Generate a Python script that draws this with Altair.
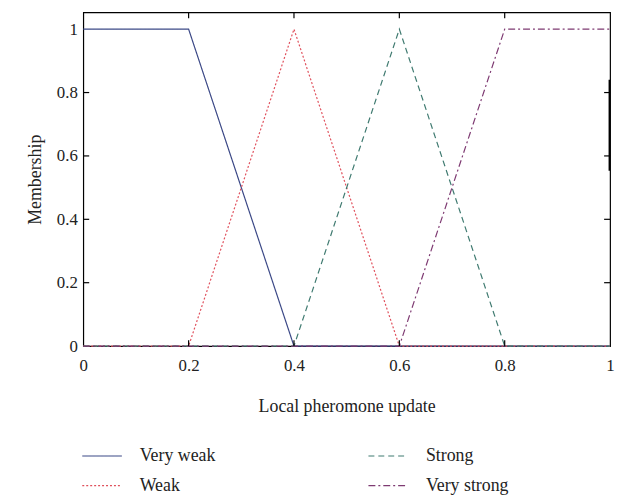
import altair as alt
import pandas as pd

# Membership functions (x breakpoints and membership values)
series_names = ["Very weak", "Weak", "Strong", "Very strong"]
very_weak_x = [0.0, 0.2, 0.4, 1.0]
very_weak_y = [1.0, 1.0, 0.0, 0.0]
weak_x = [0.0, 0.2, 0.4, 0.6, 1.0]
weak_y = [0.0, 0.0, 1.0, 0.0, 0.0]
strong_x = [0.0, 0.4, 0.6, 0.8, 1.0]
strong_y = [0.0, 0.0, 1.0, 0.0, 0.0]
very_strong_x = [0.0, 0.6, 0.8, 1.0]
very_strong_y = [0.0, 0.0, 1.0, 1.0]

x_ticks = [0, 0.2, 0.4, 0.6, 0.8, 1]
y_ticks = [0, 0.2, 0.4, 0.6, 0.8, 1]
inner_x_ticks = [0.2, 0.4, 0.6, 0.8]
inner_y_ticks = [0.2, 0.4, 0.6, 0.8]

# scan artifact on right border
artifact_y = [0.553]
artifact_y2 = [0.84]
artifact_x = [1.0]

colors = ["#3b4886", "#e0505c", "#3f7a70", "#7e3a72"]
dashes = [[1, 0], [2, 2], [6, 4], [7, 3, 2, 3]]
legend_order = ["Very weak", "Strong", "Weak", "Very strong"]

rows = []
for name, xs, ys in [
    ("Very weak", very_weak_x, very_weak_y),
    ("Weak", weak_x, weak_y),
    ("Strong", strong_x, strong_y),
    ("Very strong", very_strong_x, very_strong_y),
]:
    for i, (a, b) in enumerate(zip(xs, ys)):
        rows.append({"series": name, "x": a, "y": b, "i": i})
df = pd.DataFrame(rows)

W, H = 532, 337
FONT = "Liberation Serif"
TL = 6  # inward tick length

xscale = alt.Scale(domain=[0, 1], nice=False, zero=False)
yscale = alt.Scale(domain=[0, 1.053], nice=False, zero=False)

legend_kw = dict(title=None, orient="none", legendX=-2, legendY=427,
                 columns=2, columnPadding=151, rowPadding=-12,
                 symbolType="stroke", symbolSize=1600,
                 symbolStrokeWidth=1.2, labelOffset=17,
                 labelFontSize=18, labelFont=FONT,
                 labelColor="#222", padding=0)

lines = alt.Chart(df).mark_line(strokeWidth=1.2).encode(
    x=alt.X("x:Q", scale=xscale,
            axis=alt.Axis(values=x_ticks, title="Local pheromone update", format="~g",
                          grid=False, ticks=False, domain=False, labelPadding=12,
                          labelFlush=False, titlePadding=24)),
    y=alt.Y("y:Q", scale=yscale,
            axis=alt.Axis(values=y_ticks, title="Membership", format="~g",
                          grid=False, ticks=False, domain=False, labelPadding=6,
                          labelFlush=False, titlePadding=12)),
    order="i:Q",
    color=alt.Color("series:N",
                    scale=alt.Scale(domain=series_names, range=colors),
                    sort=legend_order, legend=alt.Legend(**legend_kw)),
    strokeDash=alt.StrokeDash("series:N",
                              scale=alt.Scale(domain=series_names, range=dashes),
                              sort=legend_order, legend=alt.Legend(**legend_kw)),
)

tx = pd.DataFrame({"v": inner_x_ticks})
ty = pd.DataFrame({"v": inner_y_ticks})

bottom_ticks = alt.Chart(tx).mark_rule(strokeWidth=1.2, color="black").encode(
    x=alt.X("v:Q", scale=xscale), y=alt.value(H), y2=alt.value(H - TL))
top_ticks = alt.Chart(tx).mark_rule(strokeWidth=1.2, color="black").encode(
    x=alt.X("v:Q", scale=xscale), y=alt.value(0), y2=alt.value(TL))
left_ticks = alt.Chart(ty).mark_rule(strokeWidth=1.2, color="black").encode(
    y=alt.Y("v:Q", scale=yscale), x=alt.value(0), x2=alt.value(TL))
right_ticks = alt.Chart(ty).mark_rule(strokeWidth=1.2, color="black").encode(
    y=alt.Y("v:Q", scale=yscale), x=alt.value(W), x2=alt.value(W - TL))

art = alt.Chart(pd.DataFrame({"x": artifact_x, "y": artifact_y, "y2": artifact_y2})).mark_rule(
    color="black", strokeWidth=3, clip=True).encode(
    x=alt.X("x:Q", scale=xscale), y=alt.Y("y:Q", scale=yscale), y2="y2:Q")

chart = alt.layer(lines, bottom_ticks, top_ticks, left_ticks, right_ticks, art).properties(
    width=W, height=H,
    background="white",
    autosize=alt.AutoSizeParams(type="none"),
    padding={"left": 76, "top": 2, "right": 6, "bottom": 150},
).configure_view(stroke="black", strokeWidth=1.2).configure_axis(
    labelFont=FONT, titleFont=FONT, labelFontSize=17, titleFontSize=18,
    labelColor="#222", titleColor="#222", titleFontWeight="normal",
)

chart.save("out.html", embed_options={"renderer": "svg", "actions": False})
